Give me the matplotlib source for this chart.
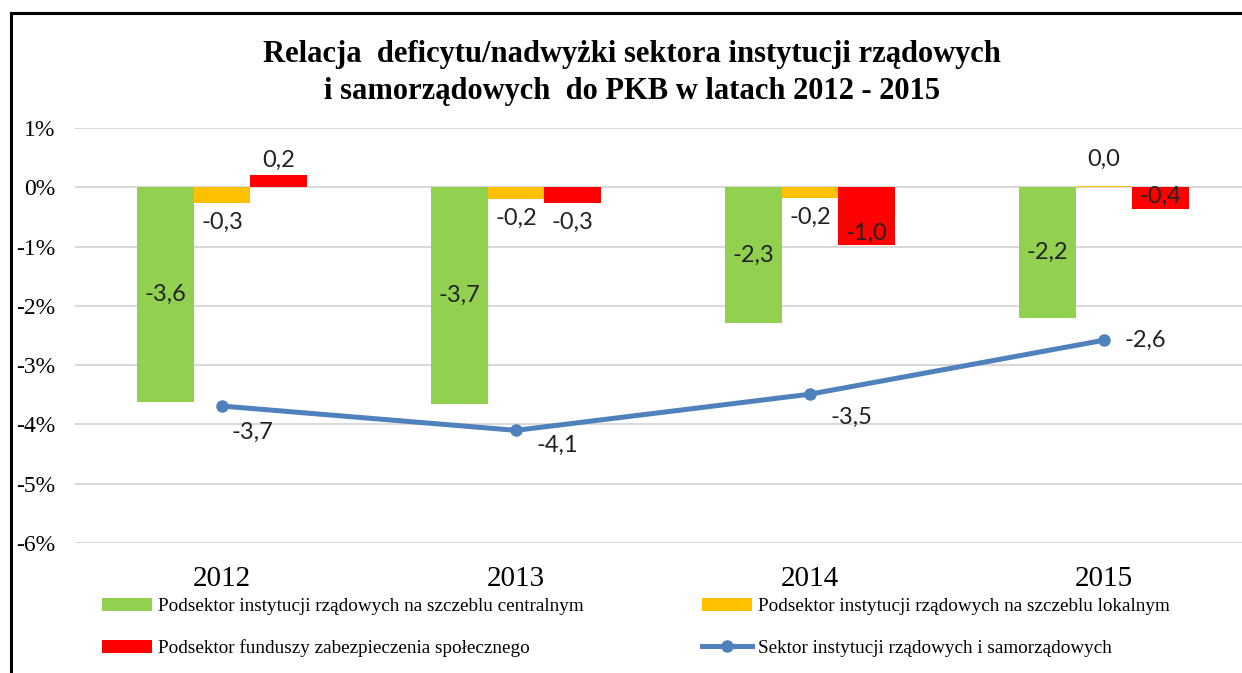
import matplotlib.pyplot as plt
import numpy as np
from matplotlib.lines import Line2D

# data (% of GDP)
years = ['2012', '2013', '2014', '2015']
central = [-3.62, -3.66, -2.29, -2.21]
local = [-0.27, -0.19, -0.18, 0.02]
social = [0.20, -0.27, -0.98, -0.36]
total = [-3.69, -4.10, -3.49, -2.58]

series_names = [
    'Podsektor instytucji rządowych na szczeblu centralnym',
    'Podsektor instytucji rządowych na szczeblu lokalnym',
    'Podsektor funduszy zabezpieczenia społecznego',
    'Sektor instytucji rządowych i samorządowych',
]
yticks = [1, 0, -1, -2, -3, -4, -5, -6]

GREEN = '#92D050'
ORANGE = '#FFC000'
RED = '#FF0000'
BLUE = '#4F81BD'
SERIF = 'Liberation Serif'
SANS = 'Lato'


def fmt(v):
    return f'{v:.1f}'.replace('.', ',').replace('-0,0', '0,0')


fig = plt.figure(figsize=(12.42, 6.73), dpi=100)
ax = fig.add_axes([75 / 1242, 1 - 543 / 673, 1 - 75 / 1242, (543 - 128) / 673])

x = np.arange(len(years))
w = 0.192
b1 = ax.bar(x - w, central, w, color=GREEN, zorder=2)
b2 = ax.bar(x, local, w, color=ORANGE, zorder=2)
b3 = ax.bar(x + w, social, w, color=RED, zorder=2)
ln, = ax.plot(x, total, color=BLUE, lw=3.6, marker='o', ms=8, zorder=3)

ax.set_xlim(-0.5, 3.47)
ax.set_ylim(-6, 1)
ax.set_yticks(yticks)
ax.set_yticklabels([f'{t}%' for t in yticks], fontfamily=SERIF, fontsize=17)
ax.tick_params(axis='y', length=0, pad=14)
ax.set_xticks([])
ax.grid(axis='y', color='#d9d9d9', lw=1.5, zorder=0)
for s in ax.spines.values():
    s.set_visible(False)

lab = dict(fontfamily=SANS, fontsize=17, color='#222222', ha='center', va='center')

# central: label in the middle of the bar
for xi, v in zip(x - w, central):
    ax.text(xi, v / 2, fmt(v), **lab)

# local: outside end
for xi, v in zip(x, local):
    off = 19 if v > 0 else -14
    ax.annotate(fmt(v), (xi, v), xytext=(0, off), textcoords='offset points', **lab)

# social: outside end for small values, inside end for the larger ones
social_inside = [False, False, True, True]
for xi, v, ins in zip(x + w, social, social_inside):
    if ins:
        off = 9
    else:
        off = 11 if v > 0 else -14
    ax.annotate(fmt(v), (xi, v), xytext=(0, off), textcoords='offset points', **lab)

line_offsets = [(22, -19), (30, -11), (30, -17), (30, 0)]
for xi, v, (dx, dy) in zip(x, total, line_offsets):
    ax.annotate(fmt(v), (xi, v), xytext=(dx, dy), textcoords='offset points', **lab)

# category labels under the plot
for xi, y in zip(x, years):
    ax.text(xi, -6.6, y, fontfamily=SERIF, fontsize=21, ha='center', va='center',
            clip_on=False)

fig.text(632 / 1242, 1 - 73 / 673,
         'Relacja  deficytu/nadwyżki sektora instytucji rządowych\n'
         'i samorządowych  do PKB w latach 2012 - 2015',
         fontfamily=SERIF, fontsize=22, fontweight='bold', ha='center', va='center',
         linespacing=1.4)

leg_kw = dict(frameon=False, prop={'family': SERIF, 'size': 13.8}, handlelength=2.6,
              labelspacing=1.25, handletextpad=0.3, borderaxespad=0, borderpad=0)
fig.legend([b1, b3], [series_names[0], series_names[2]], loc='upper left',
           bbox_to_anchor=(102 / 1242, 1 - 598 / 673), **leg_kw)
fig.legend([b2, ln], [series_names[1], series_names[3]], loc='upper left',
           bbox_to_anchor=(702 / 1242, 1 - 598 / 673), **leg_kw)

# outer frame (left and top edges visible)
fig.add_artist(Line2D([11 / 1242, 11 / 1242], [0, 1 - 13 / 673], color='black', lw=2.2))
fig.add_artist(Line2D([11 / 1242, 1], [1 - 13 / 673, 1 - 13 / 673], color='black', lw=2.2))

fig.savefig('out.png', dpi=100)
